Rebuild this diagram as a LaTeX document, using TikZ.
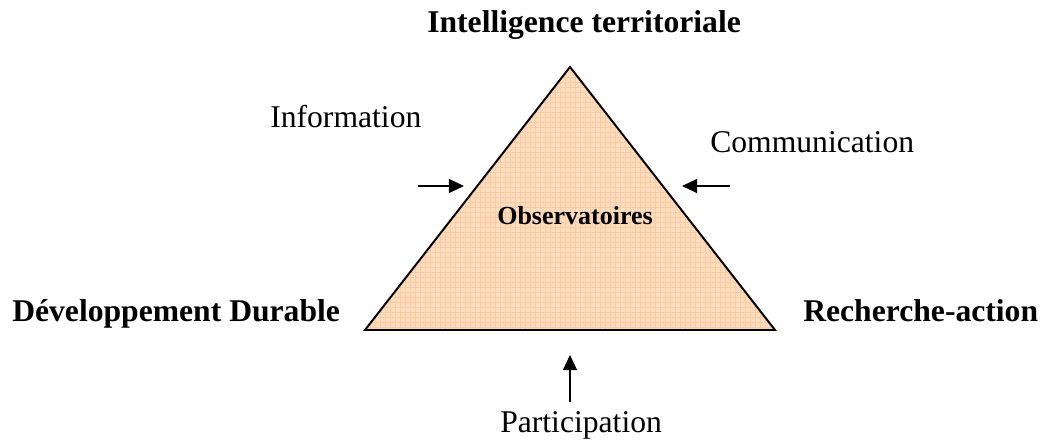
\documentclass[tikz,border=0pt]{standalone}
\usepackage{fontspec}
\setmainfont{Liberation Serif}
\usepackage{xcolor}
\usetikzlibrary{arrows.meta, calc}
\definecolor{peach}{RGB}{252,220,190}
\definecolor{peachline}{RGB}{249,204,164}
\tikzset{
    >={Triangle[length=3.8mm, width=3.5mm]},
    pole/.style={font=\fontsize{22.5}{26}\selectfont\bfseries, inner sep=0, anchor=base west},
    centre/.style={pole, font=\fontsize{18.5}{22}\selectfont\bfseries},
    flux/.style={font=\fontsize{22.5}{26}\selectfont, inner sep=0, anchor=base west},
    push/.style={->, line width=1.3pt},
}

\begin{document}
\begin{tikzpicture}
        \coordinate (A) at (14.25,9.5);
        \coordinate (B) at (9.125,2.925);
        \coordinate (C) at (19.375,2.925);
        \fill[peach] (A) -- (B) -- (C) -- cycle;
        \begin{scope}
            \clip (A) -- (B) -- (C) -- cycle;
            \draw[peachline, line width=0.2pt, step=0.125] (9,2.8) grid (19.5,9.6);
        \end{scope}
        \draw[line width=1.4pt, line join=miter] (A) -- (B) -- (C) -- cycle;
        \node[pole] (it) at (10.675,10.35) {Intelligence territoriale};
        \node[centre] (obs) at (12.425,5.55) {Observatoires};
        \node[pole] (dd) at (0.3,3.125) {Développement Durable};
        \node[pole] (ra) at (20.075,3.125) {Recherche-action};
        \node[flux] (info) at (6.75,7.975) {Information};
        \node[flux] (comm) at (17.75,7.35) {Communication};
        \node[flux] (part) at (12.5,0.35) {Participation};
        \foreach \n/\a/\b in {i/10.45/11.6, c/18.25/17.05} {
            \coordinate (\n0) at (\a,6.525);
            \coordinate (\n1) at (\b,6.525);
            \draw[push] (\n0) -- (\n1);
        };
        \coordinate (p0) at (14.25,1.125);
        \coordinate (p1) at (14.25,2.3);
        \draw[push] (p0) -- (p1);
        \useasboundingbox (0,0) rectangle (26.125,11.175);
    \end{tikzpicture}
\end{document}
